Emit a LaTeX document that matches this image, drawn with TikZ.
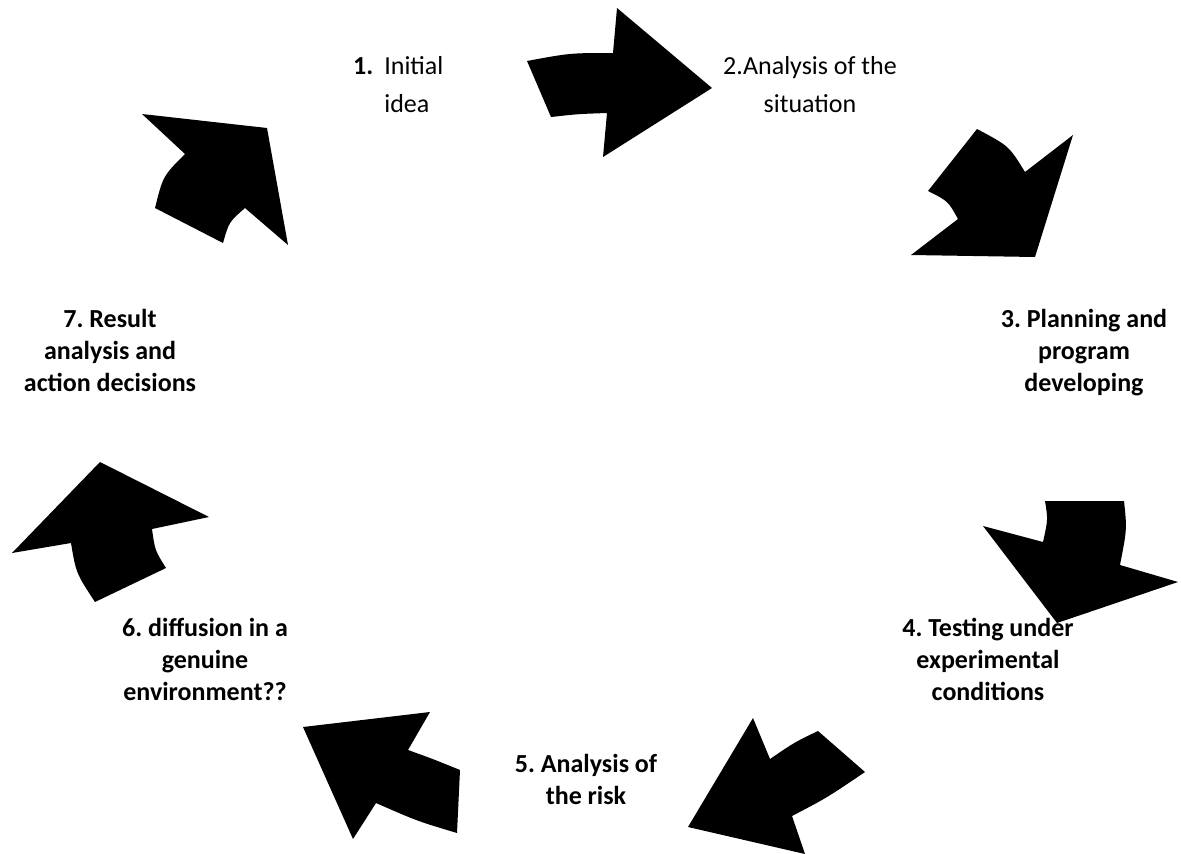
\documentclass[tikz,border=0pt]{standalone}
\usepackage{fontspec}
\setmainfont{Carlito}
\frenchspacing
\begin{document}
\begin{tikzpicture}[x=1pt,y=-1pt,
  cyclearrow/.style={fill=black,draw=none},
  lbl/.style={inner sep=0pt,align=center,font=\fontsize{26}{32}\selectfont\bfseries},
  lblreg/.style={inner sep=0pt,align=center,font=\fontsize{26}{38}\selectfont}]
\useasboundingbox (0,0) rectangle (1181,854);
% arrow 1 -> 2
\fill[cyclearrow] (527,61) .. controls (570,53) .. (613,53) -- (617,8) -- (712,88) -- (603,157) -- (607,113) .. controls (578,114) .. (551,117) -- cycle;
% arrow 2 -> 3
\fill[cyclearrow] (977,129) .. controls (1009,146) .. (1025,172) -- (1073,135) -- (1035,257) -- (911,255) -- (958,219) .. controls (948,201) .. (928,191) -- cycle;
% arrow 3 -> 4
\fill[cyclearrow] (1045,501) -- (1124,501) .. controls (1127,529) .. (1120,565) -- (1178,582) -- (1057,623) -- (983,526) -- (1043,542) .. controls (1048,519.5) .. (1045,501) -- cycle;
% arrow 4 -> 5
\fill[cyclearrow] (753,718) -- (770,759) .. controls (795,742) .. (818,731) -- (865,772) .. controls (826.5,798) .. (792,816) -- (805,854) -- (688,827) -- cycle;
% arrow 5 -> 6
\fill[cyclearrow] (303,727) -- (430,712) -- (408,750) .. controls (433,759) .. (460,770) -- (457,833) .. controls (417,821) .. (376,803) -- (353,839) -- cycle;
% arrow 6 -> 7
\fill[cyclearrow] (100,462) -- (209,517) -- (152,529) .. controls (155,550.5) .. (166,568) -- (95,602) .. controls (76,573) .. (71,543) -- (12,553) -- cycle;
% arrow 7 -> 1
\fill[cyclearrow] (142,114) -- (267,128) -- (288,245) -- (245,208) .. controls (229,222) .. (223,243) -- (155,208) .. controls (163,176) .. (185,154) -- cycle;
% labels (anchor = baseline of the last line, except n1)
\node[lblreg,anchor=base west] (n1) at (353,74) {\begin{tabular}[t]{@{}l@{\hspace{11pt}}l@{}}\textbf{1.} & Initial\\ & idea\end{tabular}};
\node[lblreg,anchor=base] (n2) at (810,112) {2.Analysis of the\\situation};
\node[lbl,anchor=base] (n3) at (1084,391) {3. Planning and\\program\\developing};
\node[lbl,anchor=base] (n4) at (988,700) {4. Testing under\\experimental\\conditions};
\node[lbl,anchor=base] (n5) at (586,804) {5. Analysis of\\the risk};
\node[lbl,anchor=base] (n6) at (205,700) {6. diffusion in a\\genuine\\environment??};
\node[lbl,anchor=base] (n7) at (110,391) {7. Result\\analysis and\\action decisions};
\end{tikzpicture}
\end{document}
